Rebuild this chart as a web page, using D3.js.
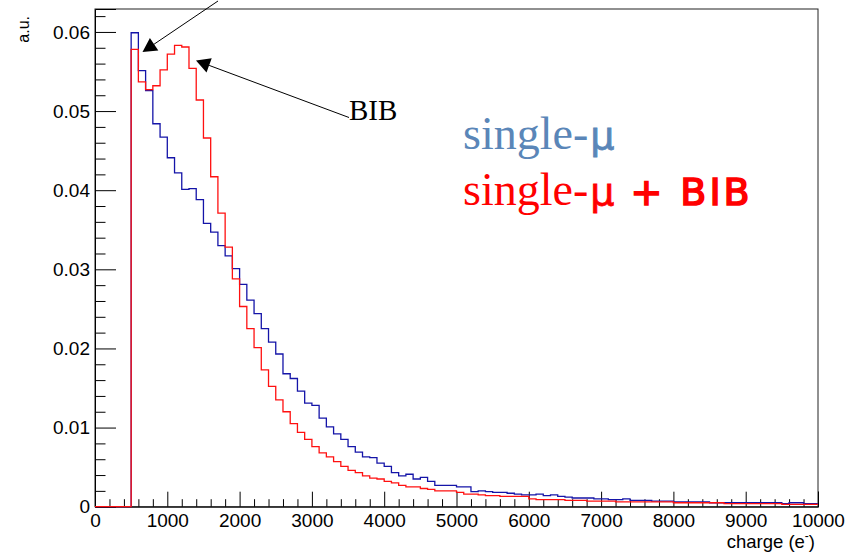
<!DOCTYPE html>
<html>
<head>
<meta charset="utf-8">
<script src="https://cdn.jsdelivr.net/npm/d3@7/dist/d3.min.js"></script>
<style>
  html, body { margin: 0; padding: 0; background: #fff; }
  svg { display: block; }
  .tick-label { font-family: "Liberation Sans", Arial, sans-serif; font-size: 19px; fill: #000; }
</style>
</head>
<body>
<svg id="chart" width="856" height="552"></svg>
<script>
// ---- data: charge histograms, 100 bins of 100 e- from 0 to 10000 ----
const binLowEdges = d3.range(0, 10000, 100);

const singleMu = [
  0, 0, 0, 0, 0,
  0.0599, 0.0551, 0.0526, 0.0484, 0.0467,
  0.0441, 0.0422, 0.0401, 0.0402, 0.0388,
  0.0358, 0.0347, 0.0330, 0.0317, 0.0301,
  0.0281, 0.0261, 0.0244, 0.0225, 0.0208,
  0.0193, 0.0168, 0.0162, 0.0146, 0.0131,
  0.0128, 0.0112, 0.0101, 0.0092, 0.0085,
  0.0076, 0.0069, 0.0063, 0.0062, 0.0055,
  0.0051, 0.0043, 0.0039, 0.0041, 0.0035,
  0.0037, 0.0032, 0.0027, 0.0027, 0.0027,
  0.0025, 0.0025, 0.0019, 0.0020, 0.0019,
  0.0018, 0.0018, 0.0017, 0.0016, 0.0015,
  0.0015, 0.0016, 0.0014, 0.0015, 0.0013,
  0.0012, 0.0011, 0.0011, 0.0011, 0.0010,
  0.0010, 0.0009, 0.0009, 0.0010, 0.0008,
  0.0008, 0.0008, 0.0007, 0.0007, 0.0007,
  0.0006, 0.0006, 0.0006, 0.0006, 0.0006,
  0.0005, 0.0005, 0.0005, 0.0005, 0.0005,
  0.0005, 0.0005, 0.0005, 0.0005, 0.0005,
  0.0004, 0.0005, 0.0005, 0.0004, 0.0004
];

const singleMuBIB = [
  0, 0, 0, 0, 0,
  0.0578, 0.0537, 0.0527, 0.0532, 0.0552,
  0.0572, 0.0583, 0.0581, 0.0554, 0.0514,
  0.0466, 0.0417, 0.0371, 0.0328, 0.0288,
  0.0253, 0.0225, 0.0201, 0.0173, 0.0152,
  0.0135, 0.0120, 0.0105, 0.0094, 0.0085,
  0.0076, 0.0068, 0.0063, 0.0057, 0.0051,
  0.0046, 0.0043, 0.0039, 0.0036, 0.0035,
  0.0032, 0.0030, 0.0027, 0.0025, 0.0025,
  0.0023, 0.0022, 0.0020, 0.0020, 0.0020,
  0.0018, 0.0016, 0.0016, 0.0015, 0.0014,
  0.0014, 0.0013, 0.0013, 0.0013, 0.0013,
  0.0010, 0.0009, 0.0009, 0.0009, 0.0009,
  0.0008, 0.0008, 0.0008, 0.0007, 0.0007,
  0.0007, 0.0007, 0.0006, 0.0006, 0.0006,
  0.0006, 0.0006, 0.0006, 0.0006, 0.0006,
  0.0005, 0.0005, 0.0005, 0.0005, 0.0005,
  0.0005, 0.0005, 0.0004, 0.0004, 0.0004,
  0.0004, 0.0004, 0.0004, 0.0004, 0.0004,
  0.0003, 0.0003, 0.0003, 0.0003, 0.0003
];

const xMajorTicks = [0, 1000, 2000, 3000, 4000, 5000, 6000, 7000, 8000, 9000, 10000];
const yMajorTicks = [0, 0.01, 0.02, 0.03, 0.04, 0.05, 0.06];
const yTickLabels = ["0", "0.01", "0.02", "0.03", "0.04", "0.05", "0.06"];

// ---- layout ----
const frame = { left: 95, right: 818, top: 9, bottom: 506.7 };

const svg = d3.select('#chart');

const x = d3.scaleLinear().domain([0, 10000]).range([frame.left, frame.right]);
const y = d3.scaleLinear().domain([0, 0.0629]).range([frame.bottom, frame.top]);

// frame box
svg.append('rect')
  .attr('x', frame.left).attr('y', frame.top)
  .attr('width', frame.right - frame.left)
  .attr('height', frame.bottom - frame.top)
  .attr('fill', 'none')
  .attr('stroke', '#222')
  .attr('stroke-width', 1);

// ---- x axis (ticks point inward, ROOT style) ----
const xMinor = d3.range(0, 10001, 200).filter(v => v % 1000 !== 0);

svg.append('g')
  .attr('transform', `translate(0,${frame.bottom})`)
  .call(d3.axisBottom(x).tickValues(xMinor).tickSize(-7.5).tickFormat(''))
  .call(g => g.select('.domain').remove())
  .call(g => g.selectAll('line').attr('stroke', '#000'));

svg.append('g')
  .attr('transform', `translate(0,${frame.bottom})`)
  .call(d3.axisBottom(x).tickValues(xMajorTicks).tickSize(-15).tickPadding(6.5).tickFormat(d3.format('d')))
  .call(g => g.select('.domain').attr('stroke', '#000'))
  .call(g => g.selectAll('line').attr('stroke', '#000'))
  .call(g => g.selectAll('text').attr('class', 'tick-label').attr('font-size', null).attr('font-family', null));

// ---- y axis ----
const yMinor = d3.range(0, 0.0629, 0.002).filter((v, i) => i % 5 !== 0);

svg.append('g')
  .attr('transform', `translate(${frame.left},0)`)
  .call(d3.axisLeft(y).tickValues(yMinor).tickSize(-10.5).tickFormat(''))
  .call(g => g.select('.domain').remove())
  .call(g => g.selectAll('line').attr('stroke', '#000'));

svg.append('g')
  .attr('transform', `translate(${frame.left},0)`)
  .call(d3.axisLeft(y).tickValues(yMajorTicks).tickSize(-21).tickPadding(5)
    .tickFormat((d, i) => yTickLabels[i]))
  .call(g => g.select('.domain').attr('stroke', '#000'))
  .call(g => g.selectAll('line').attr('stroke', '#000'))
  .call(g => g.selectAll('text').attr('class', 'tick-label').attr('font-size', null).attr('font-family', null));

// axis titles
svg.append('text')
  .attr('class', 'tick-label')
  .attr('transform', 'translate(29,16) rotate(-90)')
  .attr('text-anchor', 'end')
  .style('font-size', '16px')
  .text('a.u.');

const xTitle = svg.append('text')
  .attr('class', 'tick-label')
  .attr('x', 815).attr('y', 548)
  .attr('text-anchor', 'end')
  .style('font-size', '18.5px');
xTitle.append('tspan').text('charge (e');
xTitle.append('tspan').attr('dy', -8).style('font-size', '12px').text('-');
xTitle.append('tspan').attr('dy', 8).text(')');

// ---- histograms (step outline) ----
const stepLine = d3.line()
  .x(d => x(d[0]))
  .y(d => y(d[1]))
  .curve(d3.curveStepAfter);

function histPoints(values) {
  const pts = binLowEdges.map((e, i) => [e, values[i]]);
  pts.push([10000, values[values.length - 1]]);
  return pts;
}

const plot = svg.append('g');

plot.append('path')
  .attr('d', stepLine(histPoints(singleMu)))
  .attr('fill', 'none')
  .attr('stroke', '#1414a8')
  .attr('stroke-width', 1.3);

plot.append('path')
  .attr('d', stepLine(histPoints(singleMuBIB)))
  .attr('fill', 'none')
  .attr('stroke', '#ff1010')
  .attr('stroke-width', 1.3);

// ---- annotations ----
function arrow(tail, tip, headLen = 14, halfW = 7.5) {
  const dx = tip[0] - tail[0], dy = tip[1] - tail[1];
  const L = Math.hypot(dx, dy);
  const ux = dx / L, uy = dy / L;
  const bx = tip[0] - ux * headLen, by = tip[1] - uy * headLen;
  svg.append('line')
    .attr('x1', tail[0]).attr('y1', tail[1])
    .attr('x2', bx).attr('y2', by)
    .attr('stroke', '#000').attr('stroke-width', 1);
  svg.append('path')
    .attr('d', `M${tip[0]},${tip[1]}L${bx - uy * halfW},${by + ux * halfW}L${bx + uy * halfW},${by - ux * halfW}Z`)
    .attr('fill', '#000');
}

arrow([218, 1], [142.5, 52]);
arrow([349, 117.5], [196, 60.5]);

svg.append('text')
  .attr('x', 349).attr('y', 120)
  .style('font-family', '"Liberation Serif", "Times New Roman", serif')
  .style('font-size', '29px')
  .text('BIB');

// legend text: serif "single-", sans "μ + BIB"
const serif = '"Liberation Serif", "Times New Roman", serif';
const sans = '"DejaVu Sans", sans-serif';

function legendLine(yPos, color, extra) {
  const t = svg.append('text')
    .attr('x', 463).attr('y', yPos)
    .attr('fill', color);
  t.append('tspan')
    .style('font-family', serif).style('font-size', '46px')
    .text('single-');
  t.append('tspan')
    .attr('dx', 2)
    .style('font-family', sans).style('font-size', '38px')
    .attr('stroke', color).attr('stroke-width', 0.8)
    .text('μ');
  if (extra) {
    t.append('tspan')
      .attr('dx', 16)
      .style('font-family', sans).style('font-size', '38px')
      .style('letter-spacing', '3px')
      .attr('stroke', color).attr('stroke-width', 1.6)
      .text(extra);
  }
}

legendLine(149, '#5a86b8', null);
legendLine(205, '#ff0000', '+ BIB');
</script>
</body>
</html>
